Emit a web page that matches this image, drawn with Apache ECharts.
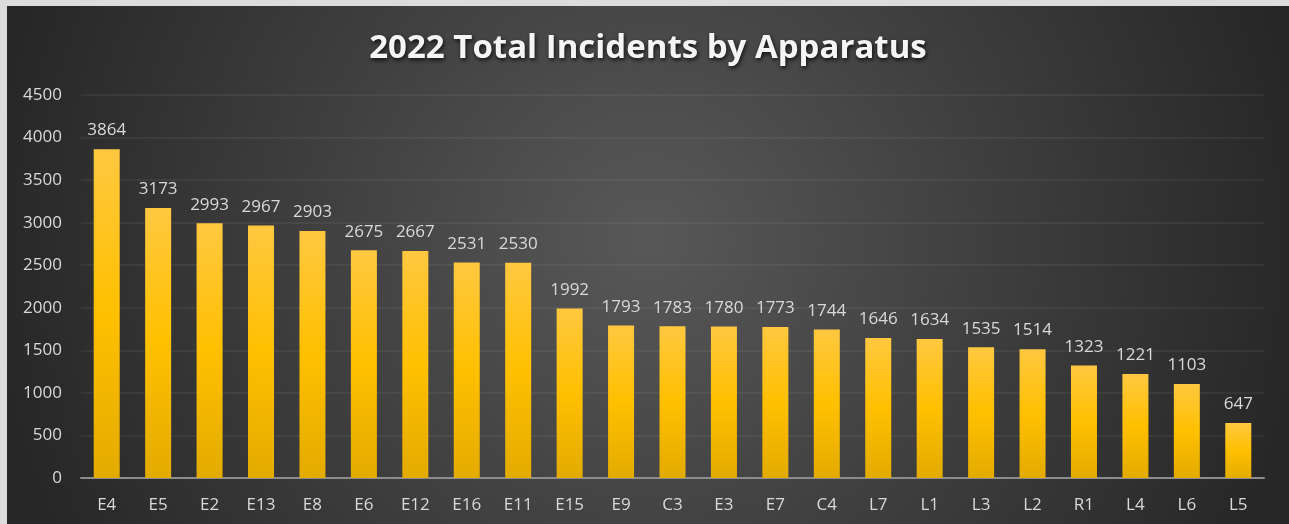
<!DOCTYPE html>
<html>
<head>
<meta charset="utf-8">
<script src="https://cdn.jsdelivr.net/npm/echarts@6/dist/echarts.min.js"></script>
<style>
html,body{margin:0;padding:0;background:#dcdcdc;width:1289px;height:524px;overflow:hidden;}
#c{position:absolute;left:7px;top:6px;width:1282px;height:518px;}
</style>
</head>
<body>
<div id="c"></div>
<script>
const categories = ['E4','E5','E2','E13','E8','E6','E12','E16','E11','E15','E9','C3','E3','E7','C4','L7','L1','L3','L2','R1','L4','L6','L5'];
const incidents = [3864,3173,2993,2967,2903,2675,2667,2531,2530,1992,1793,1783,1780,1773,1744,1646,1634,1535,1514,1323,1221,1103,647];
const titleText = '2022 Total Incidents by Apparatus';

const chart = echarts.init(document.getElementById('c'), null, {renderer:'canvas'});
chart.setOption({
  backgroundColor: {
    type:'radial', x:0.5, y:0.45, r:1.3,
    colorStops:[{offset:0,color:'#585858'},{offset:1,color:'#262626'}]
  },
  title:{
    text:titleText, left:'center', top:21,
    textStyle:{color:'#f5f5f5', fontFamily:'Open Sans', fontWeight:'bold', fontSize:33,
      textShadowColor:'rgba(0,0,0,0.8)', textShadowBlur:4, textShadowOffsetX:1, textShadowOffsetY:2}
  },
  grid:{left:74, top:89, width:1183, height:383, containLabel:false},
  xAxis:{
    type:'category', data:categories,
    axisLine:{lineStyle:{color:'#8c8c8c', width:2}},
    axisTick:{show:false},
    axisLabel:{color:'#d9d9d9', fontSize:17, fontFamily:'Open Sans', margin:19}
  },
  yAxis:{
    type:'value', min:0, max:4500, interval:500,
    axisLine:{show:false}, axisTick:{show:false},
    splitLine:{lineStyle:{color:'rgba(255,255,255,0.07)', width:1.5}},
    axisLabel:{color:'#d9d9d9', fontSize:17, fontFamily:'Open Sans', margin:19, formatter:(v)=>String(v)}
  },
  series:[{
    type:'bar', data:incidents, barWidth:26,
    itemStyle:{color:{type:'linear',x:0,y:0,x2:0,y2:1,colorStops:[
      {offset:0,color:'#ffc840'},{offset:0.5,color:'#ffc000'},{offset:1,color:'#e3ab00'}]}},
    label:{show:true, position:'top', color:'#d9d9d9', fontSize:17, fontFamily:'Open Sans', distance:10}
  }]
});
</script>
</body>
</html>
